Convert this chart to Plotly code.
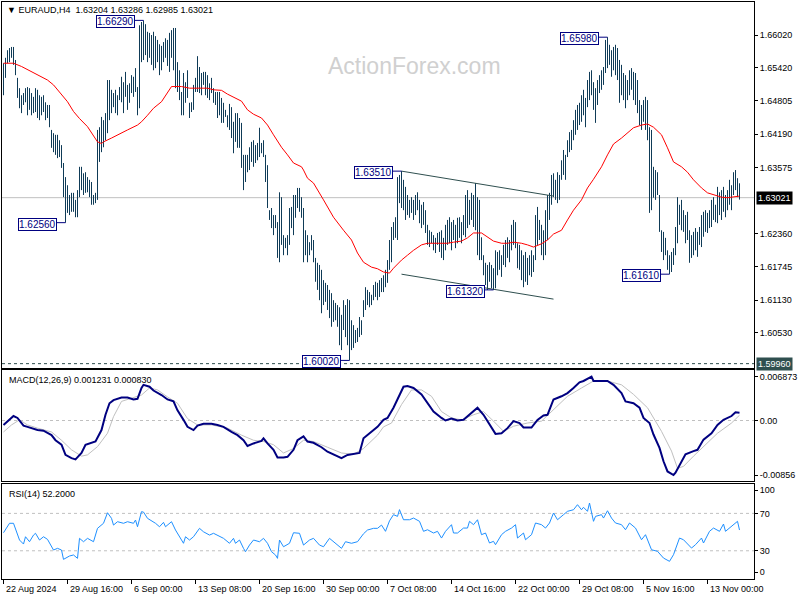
import plotly.graph_objects as go

symbol = "EURAUD,H4"
last_ohlc = [1.63204, 1.63286, 1.62985, 1.63021]
support_level = 1.59960

label_bars = [0, 32, 64, 96, 128, 160, 192, 224, 256, 288, 320, 352]
label_text = ["22 Aug 2024", "29 Aug 16:00", "6 Sep 00:00", "13 Sep 08:00", "20 Sep 16:00",
              "30 Sep 00:00", "7 Oct 08:00", "14 Oct 16:00", "22 Oct 00:00", "29 Oct 08:00",
              "5 Nov 16:00", "13 Nov 00:00"]

highs = [
    1.6550, 1.6560, 1.6574, 1.6578, 1.6580, 1.6580, 1.6556, 1.6523, 1.6504, 1.6491,
    1.6495, 1.6504, 1.6506, 1.6504, 1.6495, 1.6488, 1.6504, 1.6501, 1.6491, 1.6488,
    1.6491, 1.6478, 1.6473, 1.6473, 1.6427, 1.6421, 1.6418, 1.6418, 1.6408, 1.6399,
    1.6366, 1.6340, 1.6325, 1.6307, 1.6311, 1.6311, 1.6298, 1.6316, 1.6359, 1.6359,
    1.6347, 1.6349, 1.6340, 1.6335, 1.6331, 1.6307, 1.6311, 1.6427, 1.6432, 1.6451,
    1.6445, 1.6458, 1.6519, 1.6519, 1.6501, 1.6495, 1.6501, 1.6491, 1.6506, 1.6525,
    1.6515, 1.6534, 1.6510, 1.6513, 1.6528, 1.6525, 1.6541, 1.6506, 1.6620, 1.6626,
    1.6629, 1.6622, 1.6608, 1.6606, 1.6602, 1.6608, 1.6600, 1.6593, 1.6585, 1.6582,
    1.6589, 1.6596, 1.6593, 1.6606, 1.6611, 1.6615, 1.6615, 1.6552, 1.6537, 1.6497,
    1.6532, 1.6515, 1.6537, 1.6477, 1.6478, 1.6510, 1.6523, 1.6563, 1.6543, 1.6532,
    1.6534, 1.6534, 1.6528, 1.6513, 1.6523, 1.6504, 1.6497, 1.6497, 1.6497, 1.6486,
    1.6477, 1.6464, 1.6454, 1.6475, 1.6469, 1.6442, 1.6458, 1.6458, 1.6449, 1.6440,
    1.6381, 1.6381, 1.6381, 1.6395, 1.6405, 1.6408, 1.6399, 1.6403, 1.6431, 1.6403,
    1.6408, 1.6381, 1.6362, 1.6279, 1.6283, 1.6270, 1.6270, 1.6257, 1.6312, 1.6303,
    1.6233, 1.6228, 1.6233, 1.6283, 1.6285, 1.6307, 1.6307, 1.6320, 1.6320, 1.6303,
    1.6283, 1.6242, 1.6233, 1.6220, 1.6233, 1.6224, 1.6191, 1.6182, 1.6178, 1.6169,
    1.6150, 1.6145, 1.6141, 1.6132, 1.6126, 1.6113, 1.6108, 1.6104, 1.6100, 1.6086,
    1.6113, 1.6104, 1.6115, 1.6113, 1.6076, 1.6067, 1.6058, 1.6062, 1.6082, 1.6076,
    1.6113, 1.6137, 1.6132, 1.6128, 1.6123, 1.6141, 1.6147, 1.6145, 1.6150, 1.6154,
    1.6159, 1.6169, 1.6187, 1.6224, 1.6248, 1.6257, 1.6266, 1.6340, 1.6344, 1.6351,
    1.6335, 1.6322, 1.6307, 1.6298, 1.6303, 1.6298, 1.6307, 1.6312, 1.6298, 1.6289,
    1.6294, 1.6279, 1.6252, 1.6242, 1.6239, 1.6233, 1.6228, 1.6237, 1.6239, 1.6242,
    1.6228, 1.6252, 1.6261, 1.6266, 1.6257, 1.6261, 1.6252, 1.6265, 1.6266, 1.6257,
    1.6270, 1.6307, 1.6316, 1.6298, 1.6311, 1.6307, 1.6329, 1.6303, 1.6298, 1.6229,
    1.6196, 1.6182, 1.6178, 1.6183, 1.6178, 1.6172, 1.6205, 1.6202, 1.6205, 1.6196,
    1.6215, 1.6224, 1.6229, 1.6224, 1.6252, 1.6261, 1.6257, 1.6218, 1.6215, 1.6205,
    1.6196, 1.6202, 1.6191, 1.6196, 1.6205, 1.6196, 1.6270, 1.6285, 1.6261, 1.6252,
    1.6242, 1.6279, 1.6307, 1.6311, 1.6344, 1.6347, 1.6335, 1.6349, 1.6344, 1.6371,
    1.6390, 1.6381, 1.6408, 1.6423, 1.6427, 1.6445, 1.6464, 1.6473, 1.6477, 1.6491,
    1.6501, 1.6486, 1.6519, 1.6534, 1.6537, 1.6515, 1.6504, 1.6519, 1.6528, 1.6537,
    1.6543, 1.6593, 1.6598, 1.6584, 1.6574, 1.6580, 1.6584, 1.6578, 1.6556, 1.6547,
    1.6532, 1.6528, 1.6519, 1.6537, 1.6541, 1.6534, 1.6532, 1.6519, 1.6482, 1.6473,
    1.6482, 1.6488, 1.6482, 1.6432, 1.6427, 1.6359, 1.6353, 1.6349, 1.6307, 1.6242,
    1.6239, 1.6228, 1.6205, 1.6196, 1.6202, 1.6209, 1.6248, 1.6303, 1.6289, 1.6298,
    1.6279, 1.6270, 1.6276, 1.6242, 1.6233, 1.6239, 1.6246, 1.6239, 1.6248, 1.6270,
    1.6276, 1.6279, 1.6274, 1.6279, 1.6298, 1.6303, 1.6289, 1.6322, 1.6312, 1.6316,
    1.6322, 1.6307, 1.6316, 1.6335, 1.6325, 1.6349, 1.6353, 1.6338, 1.63286,
]

lows = [
    1.6491, 1.6523, 1.6550, 1.6552, 1.6560, 1.6547, 1.6528, 1.6486, 1.6467, 1.6458,
    1.6473, 1.6478, 1.6454, 1.6464, 1.6454, 1.6458, 1.6460, 1.6449, 1.6445, 1.6454,
    1.6460, 1.6445, 1.6449, 1.6432, 1.6394, 1.6386, 1.6381, 1.6375, 1.6377, 1.6357,
    1.6303, 1.6256, 1.6274, 1.6270, 1.6276, 1.6276, 1.6266, 1.6266, 1.6303, 1.6316,
    1.6307, 1.6311, 1.6312, 1.6303, 1.6289, 1.6289, 1.6292, 1.6298, 1.6368, 1.6386,
    1.6395, 1.6408, 1.6421, 1.6445, 1.6458, 1.6469, 1.6458, 1.6454, 1.6482, 1.6478,
    1.6458, 1.6488, 1.6464, 1.6477, 1.6495, 1.6488, 1.6497, 1.6454, 1.6467, 1.6552,
    1.6556, 1.6565, 1.6552, 1.6560, 1.6547, 1.6537, 1.6541, 1.6552, 1.6528, 1.6537,
    1.6552, 1.6560, 1.6545, 1.6534, 1.6560, 1.6537, 1.6504, 1.6497, 1.6482, 1.6454,
    1.6454, 1.6477, 1.6486, 1.6449, 1.6460, 1.6464, 1.6497, 1.6497, 1.6495, 1.6491,
    1.6510, 1.6491, 1.6486, 1.6482, 1.6495, 1.6477, 1.6473, 1.6449, 1.6454, 1.6440,
    1.6440, 1.6451, 1.6432, 1.6427, 1.6412, 1.6384, 1.6405, 1.6394, 1.6394, 1.6357,
    1.6316, 1.6331, 1.6349, 1.6353, 1.6368, 1.6359, 1.6366, 1.6371, 1.6377, 1.6384,
    1.6377, 1.6331, 1.6283, 1.6261, 1.6246, 1.6233, 1.6246, 1.6191, 1.6183, 1.6215,
    1.6196, 1.6209, 1.6196, 1.6215, 1.6246, 1.6233, 1.6265, 1.6283, 1.6276, 1.6265,
    1.6183, 1.6196, 1.6183, 1.6196, 1.6205, 1.6183, 1.6147, 1.6132, 1.6113, 1.6089,
    1.6104, 1.6110, 1.6095, 1.6080, 1.6064, 1.6073, 1.6076, 1.6064, 1.6030, 1.6021,
    1.6058, 1.6045, 1.6030, 1.6002, 1.6021, 1.6025, 1.6034, 1.6036, 1.6045, 1.6049,
    1.6082, 1.6095, 1.6104, 1.6100, 1.6104, 1.6113, 1.6119, 1.6113, 1.6119, 1.6128,
    1.6128, 1.6137, 1.6145, 1.6169, 1.6183, 1.6224, 1.6228, 1.6224, 1.6292, 1.6283,
    1.6279, 1.6261, 1.6270, 1.6265, 1.6274, 1.6261, 1.6270, 1.6279, 1.6255, 1.6246,
    1.6252, 1.6237, 1.6215, 1.6211, 1.6218, 1.6205, 1.6200, 1.6215, 1.6202, 1.6191,
    1.6187, 1.6205, 1.6215, 1.6218, 1.6205, 1.6224, 1.6209, 1.6218, 1.6228, 1.6218,
    1.6233, 1.6229, 1.6246, 1.6252, 1.6261, 1.6248, 1.6242, 1.6196, 1.6187, 1.6187,
    1.6159, 1.6141, 1.6132, 1.6147, 1.6135, 1.6132, 1.6135, 1.6159, 1.6169, 1.6156,
    1.6178, 1.6174, 1.6191, 1.6183, 1.6205, 1.6215, 1.6209, 1.6172, 1.6169, 1.6150,
    1.6137, 1.6147, 1.6141, 1.6159, 1.6156, 1.6165, 1.6187, 1.6215, 1.6224, 1.6196,
    1.6187, 1.6196, 1.6224, 1.6261, 1.6289, 1.6303, 1.6298, 1.6292, 1.6298, 1.6335,
    1.6344, 1.6335, 1.6377, 1.6386, 1.6390, 1.6408, 1.6418, 1.6427, 1.6436, 1.6442,
    1.6454, 1.6432, 1.6469, 1.6482, 1.6491, 1.6464, 1.6440, 1.6473, 1.6495, 1.6501,
    1.6510, 1.6532, 1.6541, 1.6547, 1.6525, 1.6537, 1.6528, 1.6519, 1.6477, 1.6491,
    1.6482, 1.6467, 1.6482, 1.6491, 1.6501, 1.6482, 1.6473, 1.6458, 1.6436, 1.6427,
    1.6442, 1.6427, 1.6408, 1.6274, 1.6279, 1.6302, 1.6298, 1.6307, 1.6239, 1.6202,
    1.6187, 1.6196, 1.6169, 1.6161, 1.6165, 1.6178, 1.6196, 1.6218, 1.6252, 1.6242,
    1.6239, 1.6218, 1.6224, 1.6182, 1.6191, 1.6196, 1.6205, 1.6193, 1.6215, 1.6211,
    1.6230, 1.6239, 1.6237, 1.6246, 1.6248, 1.6261, 1.6257, 1.6255, 1.6270, 1.6261,
    1.6276, 1.6266, 1.6279, 1.6289, 1.6279, 1.6307, 1.6316, 1.6303, 1.62985,
]

ma_bar = [0, 5, 9, 14, 17, 22, 25, 28, 32, 35, 38, 42, 45, 47, 49, 50, 54, 57, 62, 67,
          69, 72, 75, 79, 82, 84, 89, 93, 99, 102, 105, 109, 112, 115, 119, 122, 125, 129, 132, 135,
          139, 142, 145, 149, 150, 152, 155, 160, 165, 170, 174, 177, 180, 184, 187, 190, 193, 195, 199, 202,
          205, 209, 212, 215, 219, 222, 225, 229, 232, 235, 239, 242, 245, 249, 252, 255, 259, 262, 265, 269,
          272, 275, 279, 282, 285, 289, 292, 295, 299, 302, 305, 309, 312, 315, 319, 322, 325, 329, 332, 335,
          339, 342, 345, 349, 352, 355, 359, 362, 365, 368]
ma_val = [1.6550, 1.6550, 1.6544, 1.6534, 1.6528, 1.6519, 1.6510, 1.6497, 1.6479, 1.6461,
          1.6448, 1.6433, 1.6415, 1.6405, 1.6402, 1.6405, 1.6412, 1.6418, 1.6427, 1.6436,
          1.6442, 1.6454, 1.6467, 1.6479, 1.6495, 1.6507, 1.6507, 1.6504, 1.6504, 1.6504,
          1.6501, 1.6500, 1.6493, 1.6488, 1.6480, 1.6464, 1.6456, 1.6449, 1.6436, 1.6418,
          1.6395, 1.6381, 1.6366, 1.6359, 1.6353, 1.6338, 1.6329, 1.6298, 1.6266, 1.6242,
          1.6224, 1.6200, 1.6183, 1.6174, 1.6171, 1.6165, 1.6163, 1.6172, 1.6187, 1.6196,
          1.6205, 1.6215, 1.6218, 1.6218, 1.6218, 1.6218, 1.6220, 1.6222, 1.6228, 1.6237,
          1.6237, 1.6229, 1.6222, 1.6218, 1.6218, 1.6220, 1.6218, 1.6215, 1.6211, 1.6217,
          1.6224, 1.6235, 1.6242, 1.6261, 1.6279, 1.6298, 1.6320, 1.6336, 1.6359, 1.6381,
          1.6401, 1.6412, 1.6421, 1.6431, 1.6436, 1.6438, 1.6432, 1.6418, 1.6394, 1.6368,
          1.6359, 1.6349, 1.6335, 1.6320, 1.6311, 1.6307, 1.6303, 1.6302, 1.6303, 1.6305]

macd_bar = [0, 3, 5, 7, 10, 12, 15, 17, 20, 24, 26, 29, 31, 34, 36, 39, 41, 44, 46, 49,
            51, 53, 55, 59, 62, 65, 67, 69, 70, 73, 75, 79, 82, 85, 87, 90, 92, 95, 97, 100,
            104, 107, 110, 114, 117, 120, 122, 125, 129, 130, 132, 135, 137, 140, 142, 145, 147, 150, 152, 155,
            159, 162, 165, 169, 172, 175, 178, 180, 184, 187, 190, 192, 195, 197, 200, 202, 205, 209, 212, 215,
            219, 221, 224, 227, 230, 233, 237, 240, 243, 246, 249, 252, 255, 258, 260, 264, 267, 270, 272, 275,
            279, 282, 285, 288, 290, 294, 295, 299, 302, 305, 309, 311, 315, 318, 320, 323, 325, 328, 330, 332,
            335, 336, 339, 341, 345, 347, 350, 354, 357, 360, 364, 366, 368]
macd_val = [-0.0007, 0.0001, 0.0007, 0.0004, -0.0008, -0.0010, -0.0013, -0.0015, -0.0016, -0.0023,
            -0.0031, -0.0038, -0.0054, -0.0059, -0.0061, -0.0051, -0.0038, -0.0035, -0.0033, -0.0015,
            0.0009, 0.0027, 0.0032, 0.0036, 0.0036, 0.0033, 0.0034, 0.0051, 0.0056, 0.0053,
            0.0047, 0.0040, 0.0033, 0.0030, 0.0016, 0.0001, -0.0010, -0.0015, -0.0008, -0.0005,
            -0.0005, -0.0007, -0.0010, -0.0018, -0.0023, -0.0031, -0.0040, -0.0036, -0.0032, -0.0028,
            -0.0036, -0.0046, -0.0058, -0.0058, -0.0057, -0.0046, -0.0031, -0.0025, -0.0033, -0.0035,
            -0.0042, -0.0049, -0.0053, -0.0059, -0.0054, -0.0053, -0.0051, -0.0028, -0.0018, -0.0010,
            0.0001, 0.0004, 0.0020, 0.0033, 0.0053, 0.0054, 0.0051, 0.0041, 0.0027, 0.0014,
            0.0004, 0.0000, 0.0003, 0.0000, 0.0001, 0.0009, 0.0020, 0.0009, -0.0007, -0.0021,
            -0.0020, -0.0012, -0.0001, -0.0004, -0.0011, -0.0011, 0.0001, 0.0008, 0.0009, 0.0033,
            0.0038, 0.0043, 0.0051, 0.0060, 0.0062, 0.006873, 0.0062, 0.0062, 0.0062, 0.0056,
            0.0043, 0.0030, 0.0027, 0.0020, 0.0004, -0.0004, -0.0022, -0.0043, -0.0064, -0.0080,
            -0.00856, -0.0082, -0.0064, -0.0053, -0.0048, -0.0046, -0.0030, -0.0020, -0.0007, 0.0001,
            0.0007, 0.0013, 0.001231]

sig_bar = [0, 4, 8, 12, 17, 24, 29, 34, 39, 42, 47, 52, 55, 59, 64, 69, 73, 77, 82, 87,
           92, 97, 104, 112, 119, 125, 130, 135, 140, 145, 150, 155, 162, 169, 175, 180, 187, 190, 194, 199,
           204, 209, 214, 219, 224, 229, 235, 240, 245, 250, 255, 262, 269, 275, 282, 289, 295, 302, 309, 315,
           322, 329, 334, 337, 340, 345, 350, 357, 364, 368]
sig_val = [-0.0018, -0.0007, 0.0001, -0.0007, -0.0012, -0.0018, -0.0031, -0.0046, -0.0056, -0.0054,
           -0.0041, -0.0020, 0.0006, 0.0030, 0.0035, 0.0040, 0.0051, 0.0048, 0.0037, 0.0027,
           0.0003, -0.0007, -0.0007, -0.0012, -0.0023, -0.0031, -0.0033, -0.0038, -0.0051, -0.0044,
           -0.0031, -0.0033, -0.0042, -0.0051, -0.0053, -0.0044, -0.0023, -0.0010, -0.0004, 0.0025,
           0.0048, 0.0048, 0.0038, 0.0014, 0.0004, 0.0001, 0.0009, 0.0014, -0.0001, -0.0017,
           -0.0009, -0.0004, -0.0001, 0.0017, 0.0038, 0.0051, 0.0062, 0.0062, 0.0056, 0.0041,
           0.0020, -0.0017, -0.0048, -0.0075, -0.0072, -0.0056, -0.0041, -0.0020, -0.0004, 0.00083]

rsi_bar = [0, 3, 5, 6, 8, 10, 11, 13, 15, 16, 18, 20, 22, 25, 27, 29, 30, 33, 35, 37,
           38, 40, 42, 45, 47, 50, 52, 54, 55, 57, 60, 62, 65, 66, 67, 69, 70, 72, 75, 76,
           78, 80, 81, 84, 86, 88, 90, 91, 93, 95, 98, 100, 103, 105, 108, 110, 113, 115, 116, 118,
           120, 121, 123, 125, 128, 130, 132, 134, 136, 137, 138, 140, 143, 145, 148, 150, 153, 155, 158, 160,
           163, 165, 169, 171, 174, 177, 180, 182, 185, 187, 189, 191, 193, 195, 197, 198, 200, 203, 205, 208,
           210, 212, 215, 217, 219, 221, 224, 225, 227, 230, 232, 233, 235, 237, 239, 241, 243, 245, 246, 249,
           251, 254, 256, 257, 260, 261, 264, 266, 269, 271, 273, 275, 277, 280, 282, 285, 287, 289, 290, 292,
           293, 295, 296, 299, 300, 302, 304, 306, 309, 311, 313, 316, 319, 321, 324, 327, 330, 333, 335, 338,
           340, 344, 346, 349, 350, 353, 355, 358, 360, 361, 364, 367, 368]
rsi_val = [49.3, 59.4, 59.4, 54.0, 41.5, 37.2, 45.0, 39.7, 46.8, 48.7, 41.5, 45.0, 42.2, 30.8, 32.6, 30.8, 20.8, 24.4, 25.5, 21.9,
           43.3, 39.7, 43.3, 39.7, 54.0, 59.4, 70.7, 64.7, 57.5, 61.1, 59.4, 61.1, 59.4, 62.9, 55.7, 71.8, 71.4, 64.7, 61.1, 59.4,
           55.7, 60.4, 55.7, 61.1, 52.2, 45.0, 38.0, 45.0, 41.5, 45.0, 54.0, 50.3, 46.8, 48.7, 45.0, 43.3, 38.0, 43.3, 38.0, 41.5,
           32.6, 29.0, 36.1, 41.5, 39.7, 43.3, 38.0, 29.0, 25.5, 21.9, 41.5, 34.3, 38.0, 49.3, 48.7, 36.1, 41.5, 43.3, 36.1, 34.3,
           43.3, 39.7, 32.6, 39.7, 38.0, 39.7, 48.2, 52.2, 54.0, 54.0, 57.5, 50.8, 62.0, 68.6, 66.8, 74.0, 63.2, 63.2, 65.0, 61.5,
           50.8, 52.5, 49.0, 50.8, 43.6, 50.8, 57.9, 49.0, 49.0, 54.3, 54.3, 61.5, 57.9, 63.2, 47.2, 49.0, 38.3, 40.1, 36.5, 47.2,
           50.8, 54.3, 57.9, 43.6, 49.0, 41.8, 47.2, 59.7, 57.9, 54.3, 59.7, 70.4, 63.2, 68.6, 72.2, 73.9, 79.3, 73.9, 76.5, 72.2,
           81.1, 61.5, 66.8, 68.6, 65.0, 72.8, 65.0, 59.7, 57.9, 52.5, 59.7, 54.3, 41.8, 47.2, 31.1, 29.4, 22.2, 18.7, 25.8, 43.6,
           41.8, 32.9, 36.5, 43.6, 38.3, 50.8, 54.3, 50.8, 58.6, 50.8, 56.1, 61.5, 52.2]

swing_bar = [70, 31, 199, 173, 245, 302, 333]
swing_price = [1.66290, 1.62560, 1.63510, 1.60020, 1.61320, 1.65980, 1.61610]

channel_bar = [199, 275]
channel_upper = [1.6351, 1.6305]
channel_lower = [1.6161, 1.6115]

main_ticks = [1.66020, 1.65420, 1.64805, 1.64190, 1.63575, 1.62360, 1.61745, 1.61130, 1.60530]
macd_ticks = [0.006873, 0.0, -0.00856]
macd_tick_text = ["0.006873", "0.00", "-0.00856"]
rsi_ticks = [95, 70, 30, 7]
rsi_tick_text = ["100", "70", "30", "0"]

assert len(highs) == len(lows)
assert len(ma_bar) == len(ma_val)
assert len(macd_bar) == len(macd_val)
assert len(sig_bar) == len(sig_val)
assert len(rsi_bar) == len(rsi_val)

FONT = "Liberation Sans"
BAR_COLOR = "#0f3b57"
NAVY = "#000080"

fig = go.Figure()

# price bars (high-low)
seg_x, seg_y = [], []
for i, (h, l) in enumerate(zip(highs, lows)):
    seg_x += [i, i, None]
    seg_y += [l, h, None]
fig.add_trace(go.Scatter(x=seg_x, y=seg_y, mode="lines", line=dict(color=BAR_COLOR, width=1),
                         xaxis="x", yaxis="y", hoverinfo="skip"))

# moving average
fig.add_trace(go.Scatter(x=ma_bar, y=ma_val, mode="lines", line=dict(color="#ff0000", width=1),
                         xaxis="x", yaxis="y", hoverinfo="skip"))

# channel lines
for ch in (channel_upper, channel_lower):
    fig.add_trace(go.Scatter(x=channel_bar, y=ch, mode="lines", line=dict(color="#2f4f4f", width=1),
                             xaxis="x", yaxis="y", hoverinfo="skip"))

# swing label connectors
for b, p in zip(swing_bar, swing_price):
    fig.add_trace(go.Scatter(x=[b - 4.5, b], y=[p, p], mode="lines", line=dict(color=NAVY, width=1),
                             xaxis="x", yaxis="y", hoverinfo="skip"))

# MACD
fig.add_trace(go.Scatter(x=sig_bar, y=sig_val, mode="lines", line=dict(color="#c0c0c0", width=1),
                         xaxis="x2", yaxis="y2", hoverinfo="skip"))
fig.add_trace(go.Scatter(x=macd_bar, y=macd_val, mode="lines", line=dict(color=NAVY, width=2),
                         xaxis="x2", yaxis="y2", hoverinfo="skip"))

# RSI
fig.add_trace(go.Scatter(x=rsi_bar, y=rsi_val, mode="lines", line=dict(color="#1e90ff", width=1),
                         xaxis="x3", yaxis="y3", hoverinfo="skip"))

xr = [-0.75, 375.25]
main_dom = [0.3657, 1.0]
macd_dom = [0.1698, 0.3622]
rsi_dom = [0.0, 0.1646]

axis_common = dict(showgrid=False, zeroline=False, showline=True, mirror=True,
                   linecolor="black", linewidth=1)

fig.update_layout(
    width=800, height=600,
    margin=dict(l=2, r=46, t=2, b=21),
    paper_bgcolor="white", plot_bgcolor="white",
    showlegend=False, hovermode=False,
    font=dict(family=FONT, size=9, color="black"),
    xaxis=dict(domain=[0, 1], anchor="y", range=xr, showticklabels=False, ticks="", **axis_common),
    xaxis2=dict(domain=[0, 1], anchor="y2", range=xr, matches="x", showticklabels=False, ticks="", **axis_common),
    xaxis3=dict(domain=[0, 1], anchor="y3", range=xr, matches="x", showticklabels=False,
                ticks="outside", ticklen=4, tickcolor="black", tickvals=label_bars, **axis_common),
    yaxis=dict(domain=main_dom, anchor="x", side="right", range=[1.5988, 1.66629],
               tickvals=main_ticks, ticktext=[f"{v:.5f}" for v in main_ticks],
               ticks="outside", ticklen=3, tickcolor="black",
               tickfont=dict(family=FONT, size=9, color="black"), **axis_common),
    yaxis2=dict(domain=macd_dom, anchor="x2", side="right", range=[-0.009502, 0.007925],
                tickvals=macd_ticks, ticktext=macd_tick_text,
                ticks="outside", ticklen=3, tickcolor="black",
                tickfont=dict(family=FONT, size=9, color="black"), **axis_common),
    yaxis3=dict(domain=rsi_dom, anchor="x3", side="right", range=[-0.2, 101.4],
                tickvals=rsi_ticks, ticktext=rsi_tick_text,
                ticks="outside", ticklen=3, tickcolor="black",
                tickfont=dict(family=FONT, size=9, color="black"), **axis_common),
)

shapes = [
    dict(type="line", xref="paper", x0=0, x1=1, yref="y", y0=last_ohlc[3], y1=last_ohlc[3],
         line=dict(color="#c0c0c0", width=1), layer="below"),
    dict(type="line", xref="paper", x0=0, x1=1, yref="y", y0=support_level, y1=support_level,
         line=dict(color="#2f4f4f", width=1, dash="3px,3px")),
    dict(type="line", xref="paper", x0=0, x1=1, yref="y2", y0=0, y1=0,
         line=dict(color="#c0c0c0", width=1, dash="3px,3px"), layer="below"),
    dict(type="line", xref="paper", x0=0, x1=1, yref="y3", y0=70, y1=70,
         line=dict(color="#c0c0c0", width=1, dash="3px,3px"), layer="below"),
    dict(type="line", xref="paper", x0=0, x1=1, yref="y3", y0=30, y1=30,
         line=dict(color="#c0c0c0", width=1, dash="3px,3px"), layer="below"),
]
fig.update_layout(shapes=shapes)

ann = []
# header
ann.append(dict(xref="paper", yref="paper", x=0, y=1, xanchor="left", yanchor="top", xshift=3, yshift=-1,
                text="▼ " + symbol + "  " + " ".join(f"{v:.5f}" for v in last_ohlc),
                showarrow=False, font=dict(family=FONT, size=9, color="black")))
# watermark
ann.append(dict(xref="paper", yref="paper", x=0.549, y=0.889, xanchor="center", yanchor="middle",
                text="ActionForex.com", showarrow=False,
                font=dict(family=FONT, size=23, color="#d0d0d0")))
# indicator titles
ann.append(dict(xref="paper", yref="paper", x=0, y=macd_dom[1], xanchor="left", yanchor="top",
                xshift=5, yshift=-3, showarrow=False,
                text=f"MACD(12,26,9) {macd_val[-1]:.6f} {sig_val[-1]:.6f}",
                font=dict(family=FONT, size=9, color="black")))
ann.append(dict(xref="paper", yref="paper", x=0, y=rsi_dom[1], xanchor="left", yanchor="top",
                xshift=5, yshift=-3, showarrow=False,
                text=f"RSI(14) {rsi_val[-1]:.4f}",
                font=dict(family=FONT, size=9, color="black")))
# swing labels
for b, p in zip(swing_bar, swing_price):
    ann.append(dict(xref="x", yref="y", x=b, y=p, xanchor="right", yanchor="middle", xshift=-9, yshift=-1.5,
                    text=f"{p:.5f}", showarrow=False, bgcolor="white", bordercolor=NAVY,
                    borderwidth=1, borderpad=0, font=dict(family=FONT, size=10, color=NAVY)))
# right price boxes
ann.append(dict(xref="paper", yref="y", x=1, y=last_ohlc[3], xanchor="left", yanchor="middle", xshift=2,
                text=f"{last_ohlc[3]:.5f}", showarrow=False, bgcolor="black", borderpad=1,
                font=dict(family=FONT, size=9, color="white")))
ann.append(dict(xref="paper", yref="y", x=1, y=support_level, xanchor="left", yanchor="middle", xshift=2,
                text=f"{support_level:.5f}", showarrow=False, bgcolor="#2f4f4f", borderpad=1,
                font=dict(family=FONT, size=9, color="white")))
# time labels
for b, t in zip(label_bars, label_text):
    ann.append(dict(xref="x3", yref="paper", x=b, y=0, xanchor="left", yanchor="top", yshift=-3, xshift=0,
                    text=t, showarrow=False, font=dict(family=FONT, size=9, color="black")))
fig.update_layout(annotations=ann)

fig.write_html("out.html", config={"displayModeBar": False},
               post_script="document.body.style.margin='0px';document.body.style.overflow='hidden';")
